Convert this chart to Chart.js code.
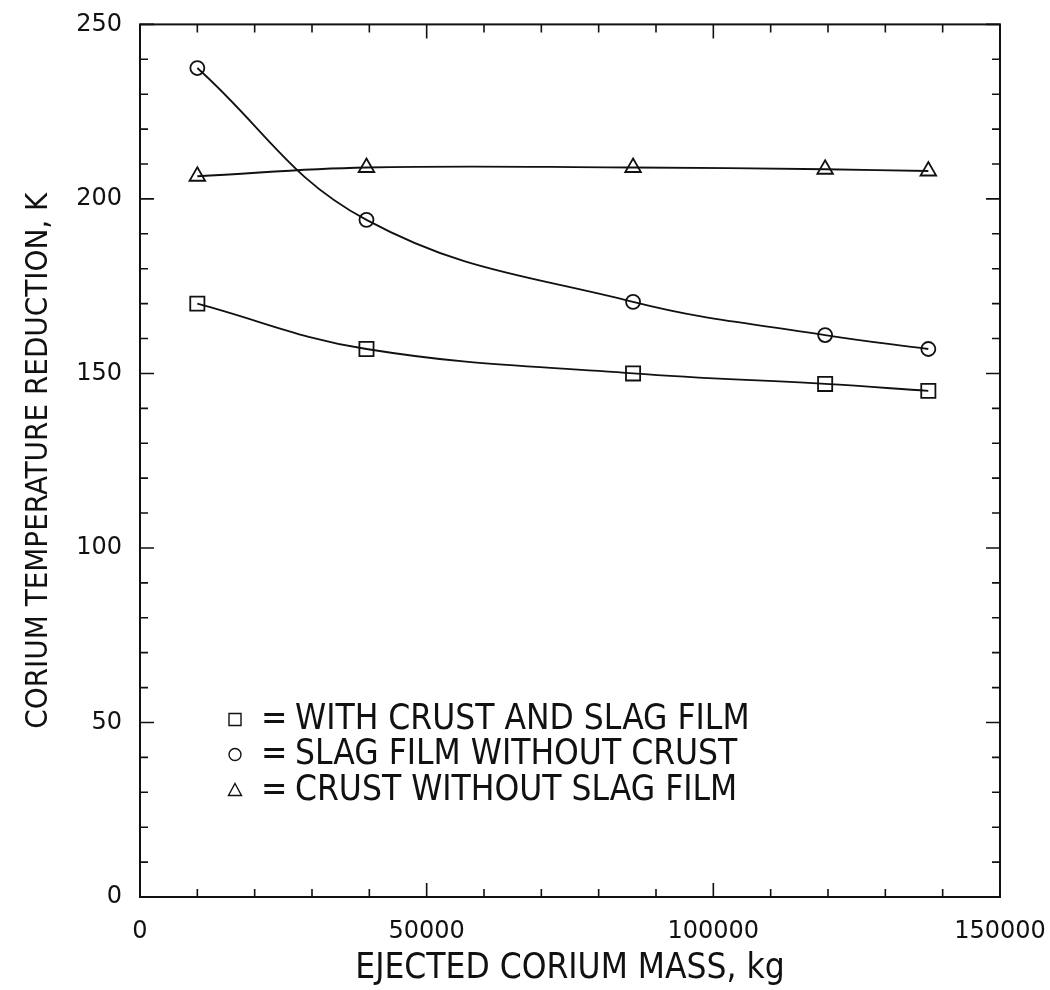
<!DOCTYPE html>
<html lang="en">
<head>
    <meta charset="UTF-8">
    <script src="https://cdn.jsdelivr.net/npm/chart.js"></script>
    <title>Corium temperature reduction</title>
    <style>
        body { margin: 0; background: #fff; }
        #wrap { width: 1050px; height: 990px; }
    </style>
</head>
<body>
    <div id="wrap">
        <canvas id="corium"></canvas>
    </div>
    <script>
        // ejected corium mass, kg
        const massKg = [10000, 39500, 86000, 119500, 137500];
        // temperature reduction, K
        const crustAndSlag = [170, 157, 150, 147, 145];
        const slagNoCrust = [237.5, 194, 170.5, 161, 157];
        const crustNoSlag = [206.5, 209, 209, 208.5, 208];
        const seriesNames = ['WITH CRUST AND SLAG FILM', 'SLAG FILM WITHOUT CRUST', 'CRUST WITHOUT SLAG FILM'];
        const seriesMarkers = ['rect', 'circle', 'triangle'];
        const xLabelEvery = 50000;
        const yLabelEvery = 50;

        const ink = '#111';
        const numFont = '"DejaVu Sans", sans-serif';
        const narrowFont = '"Liberation Sans Narrow", "DejaVu Sans Condensed", "Liberation Sans", sans-serif';

        function pts(ys) {
            return massKg.map((m, i) => ({x: m, y: ys[i]}));
        }

        function makeSet(name, ys, marker) {
            let r = 7;
            if (marker === 'rect') r = 10;
            if (marker === 'triangle') r = 9;
            return {
                label: name,
                data: pts(ys),
                borderColor: ink,
                borderWidth: 1.8,
                pointStyle: marker,
                pointRadius: r,
                pointBorderWidth: 1.8,
                pointBorderColor: ink,
                pointBackgroundColor: 'rgba(0,0,0,0)',
                tension: 0.4,
                fill: false
            };
        }

        // frame, inward ticks on all four sides, and the text key
        const framePlugin = {
            id: 'frame',
            afterDraw(chart) {
                const ctx = chart.ctx;
                const a = chart.chartArea;
                const xs = chart.scales.x, ys = chart.scales.y;
                ctx.save();
                ctx.strokeStyle = ink;
                ctx.lineWidth = 2;
                ctx.strokeRect(a.left, a.top, a.right - a.left, a.bottom - a.top);
                ctx.lineWidth = 1.6;
                ctx.beginPath();
                for (let v = 0; v <= 150000; v += 10000) {
                    const px = xs.getPixelForValue(v);
                    const len = v % xLabelEvery === 0 ? 14 : 8;
                    ctx.moveTo(px, a.bottom); ctx.lineTo(px, a.bottom - len);
                    ctx.moveTo(px, a.top); ctx.lineTo(px, a.top + len);
                }
                for (let v = 0; v <= 250; v += 10) {
                    const py = ys.getPixelForValue(v);
                    const len = v % yLabelEvery === 0 ? 14 : 8;
                    ctx.moveTo(a.left, py); ctx.lineTo(a.left + len, py);
                    ctx.moveTo(a.right, py); ctx.lineTo(a.right - len, py);
                }
                ctx.stroke();

                // key
                const keyX = a.left + 95, textX = a.left + 155;
                const top = ys.getPixelForValue(50) - 3;
                const rows = [top, top + 35, top + 71];
                ctx.fillStyle = ink;
                ctx.font = '35px ' + narrowFont;
                ctx.textBaseline = 'middle';
                ctx.lineWidth = 1.4;
                rows.forEach((ry, i) => {
                    const m = seriesMarkers[i];
                    ctx.beginPath();
                    if (m === 'rect') ctx.rect(keyX - 6, ry - 6, 12, 12);
                    else if (m === 'circle') ctx.arc(keyX, ry, 6, 0, Math.PI * 2);
                    else { ctx.moveTo(keyX, ry - 7); ctx.lineTo(keyX + 6.5, ry + 5); ctx.lineTo(keyX - 6.5, ry + 5); ctx.closePath(); }
                    ctx.stroke();
                    ctx.fillText('=', keyX + 26, ry);
                    ctx.fillText(seriesNames[i], textX, ry);
                });
                ctx.restore();
            }
        };

        new Chart(document.getElementById('corium'), {
            type: 'line',
            data: {
                datasets: [
                    makeSet(seriesNames[0], crustAndSlag, seriesMarkers[0]),
                    makeSet(seriesNames[1], slagNoCrust, seriesMarkers[1]),
                    makeSet(seriesNames[2], crustNoSlag, seriesMarkers[2])
                ]
            },
            options: {
                responsive: true,
                maintainAspectRatio: false,
                animation: false,
                layout: { padding: { top: 2, right: 50, left: 0, bottom: 0 } },
                plugins: {
                    legend: { display: false },
                    tooltip: { enabled: false }
                },
                scales: {
                    x: {
                        type: 'linear',
                        min: 0,
                        max: 150000,
                        grid: { display: false },
                        border: { display: false },
                        afterFit(s) { s.height = 93; s.paddingLeft = 0; s.paddingRight = 0; },
                        ticks: {
                            stepSize: 10000,
                            autoSkip: false,
                            maxRotation: 0,
                            padding: 12,
                            color: ink,
                            font: { family: numFont, size: 24 },
                            callback: v => v % xLabelEvery === 0 ? String(v) : ''
                        },
                        title: {
                            display: true,
                            text: 'EJECTED CORIUM MASS, kg',
                            color: ink,
                            font: { family: narrowFont, size: 35 },
                            padding: { top: 0, bottom: 0 }
                        }
                    },
                    y: {
                        min: 0,
                        max: 250,
                        grid: { display: false },
                        border: { display: false },
                        afterFit(s) { s.width = 140; },
                        ticks: {
                            stepSize: 10,
                            autoSkip: false,
                            padding: 10,
                            color: ink,
                            font: { family: numFont, size: 24 },
                            callback: v => v % yLabelEvery === 0 ? String(v) : ''
                        },
                        title: {
                            display: true,
                            text: 'CORIUM TEMPERATURE REDUCTION, K',
                            color: ink,
                            font: { family: narrowFont, size: 31 },
                            padding: { top: 20, bottom: 0 }
                        }
                    }
                }
            },
            plugins: [framePlugin]
        });
    </script>
</body>
</html>
